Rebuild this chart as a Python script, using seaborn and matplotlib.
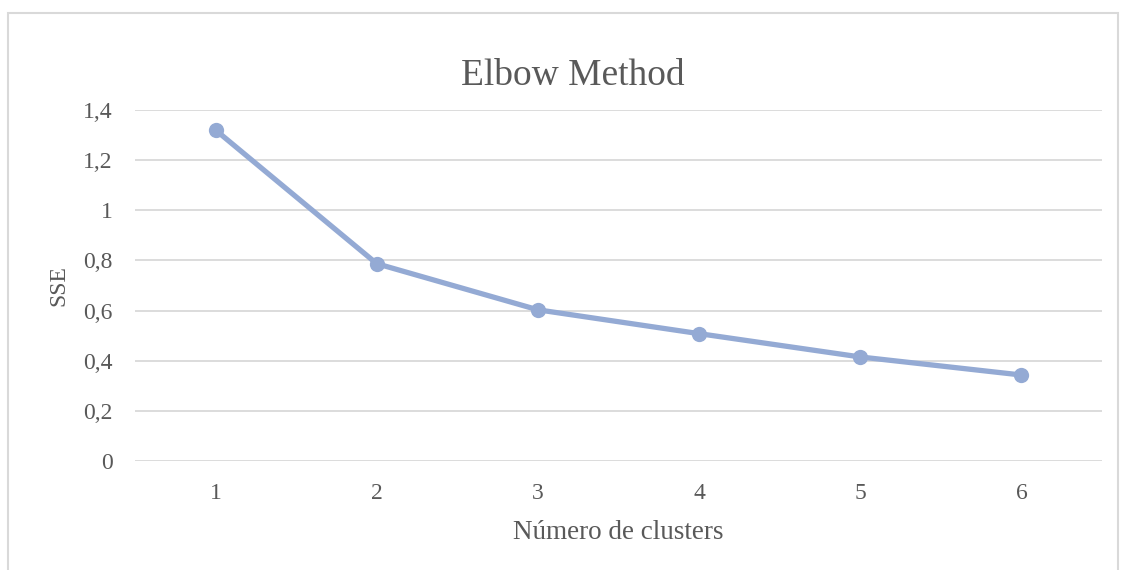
import matplotlib
matplotlib.use("Agg")
import matplotlib.pyplot as plt
from matplotlib.patches import Rectangle
import seaborn as sns
import pandas as pd

clusters = [1, 2, 3, 4, 5, 6]
sse = [1.32, 0.787, 0.603, 0.508, 0.415, 0.343]
y_ticks = [0, 0.2, 0.4, 0.6, 0.8, 1.0, 1.2, 1.4]
y_tick_labels = ["0", "0,2", "0,4", "0,6", "0,8", "1", "1,2", "1,4"]

sns.set_style("white")
plt.rcParams["font.family"] = ["Liberation Serif", "DejaVu Serif"]

text_color = "#595959"
grid_color = "#D9D9D9"
line_color = "#94AAD4"

W, H = 1121, 570
fig = plt.figure(figsize=(W / 100, H / 100), dpi=100)
ax_l, ax_r, ax_t, ax_b = 135, 1102, 110, 461
ax = fig.add_axes([ax_l / W, 1 - ax_b / H, (ax_r - ax_l) / W, (ax_b - ax_t) / H])

# Outer chart border
fig.patches.append(Rectangle((8 / W, -0.02), (1118 - 8) / W, (H - 13) / H + 0.02,
                             transform=fig.transFigure, fill=False,
                             edgecolor=grid_color, linewidth=1.5))

df = pd.DataFrame({"clusters": clusters, "sse": sse})
sns.lineplot(data=df, x="clusters", y="sse", ax=ax, color=line_color,
             linewidth=3.8, marker="o", markersize=11, markeredgewidth=0,
             solid_capstyle="round", zorder=3)

ax.set_xlim(0.5, 6.5)
ax.set_ylim(0, 1.4)
ax.set_yticks(y_ticks)
ax.set_yticklabels(y_tick_labels)
ax.set_xticks(clusters)
ax.set_xticklabels([str(c) for c in clusters])

for y in y_ticks:
    ax.axhline(y, color=grid_color, linewidth=1.3, zorder=1)

for s in ax.spines.values():
    s.set_visible(False)

ax.tick_params(axis="both", length=0, labelsize=17, colors=text_color)
ax.tick_params(axis="y", pad=16)
ax.tick_params(axis="x", pad=16)

ax.set_xlabel("Número de clusters", fontsize=19.5, color=text_color)
ax.xaxis.label.set_va("baseline")
ax.xaxis.set_label_coords(0.5, (ax_b - 539) / (ax_b - ax_t))

ax.set_ylabel("SSE", fontsize=17, color=text_color)
ax.yaxis.label.set_va("center")
ax.yaxis.set_label_coords((59 - ax_l) / (ax_r - ax_l), 0.5)

fig.text(573 / W, 1 - 85 / H, "Elbow Method", ha="center", va="baseline",
         fontsize=27, color=text_color)

fig.savefig("out.png", dpi=100)
